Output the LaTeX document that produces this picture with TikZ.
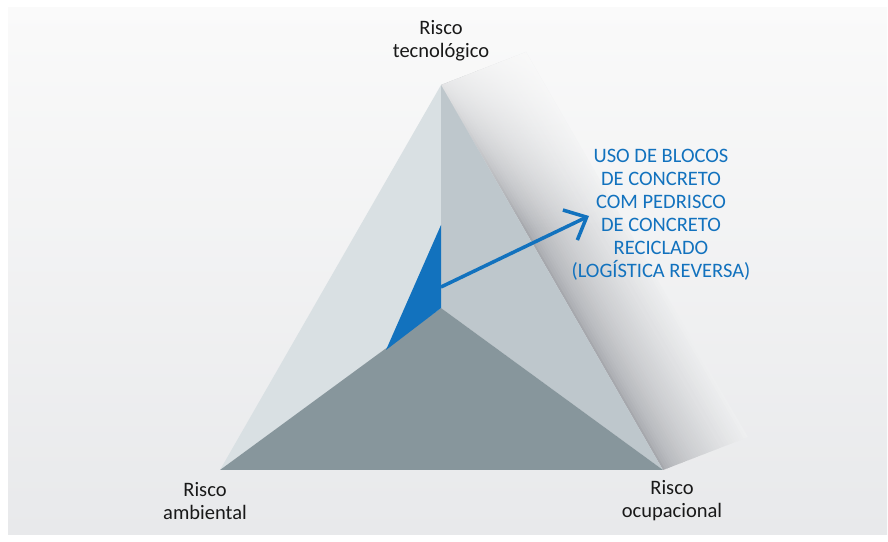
\documentclass[tikz,border=0pt]{standalone}
\usepackage{fontspec}
\setmainfont{Carlito}
\usetikzlibrary{positioning,arrows.meta,calc,fadings}
\definecolor{fundo}{HTML}{FAFAFA}
\definecolor{fundob}{HTML}{E8E9EB}
\definecolor{faceesq}{HTML}{D9E0E3}
\definecolor{facedir}{HTML}{BEC7CC}
\definecolor{base}{HTML}{87969C}
\definecolor{azul}{HTML}{1272BE}
\definecolor{sombra}{HTML}{A6A8AD}
\definecolor{sombraclara}{HTML}{EEEFF0}

\begin{document}
\begin{tikzpicture}[x=0.03cm,y=-0.03cm,
      rotulo/.style={align=center,font=\fontsize{17.5}{19.7}\selectfont,text=black!90,inner sep=0pt},
      destaque/.style={rotulo,text=azul},
      seta/.style={-{Straight Barb[length=5.5mm,width=10mm]},line width=3pt,azul}]
    \useasboundingbox (0,0) rectangle (888,542);
    \fill[white] (0,0) rectangle (888,542);
    \shade[top color=fundo,bottom color=fundob] (8,8) rectangle (887,534);
    % vertices da piramide
    \coordinate (topo) at (441,85);
    \coordinate (amb) at (220,470);
    \coordinate (ocup) at (663,470);
    \coordinate (centro) at (441,308);
    \coordinate (topoS) at (526,52);
    \coordinate (ocupS) at (748,437);
    \coordinate (azulTopo) at (441,225);
    \coordinate (azulBase) at (386,350);
    % sombra em faixas
    \foreach \i in {0,...,39}{
      \pgfmathsetmacro\ta{\i/40}
      \pgfmathsetmacro\tb{min((\i+1.3)/40,1)}
      \pgfmathtruncatemacro\pc{100*(\i/39)^0.6}
      \fill[sombraclara!\pc!sombra] ($(topo)!\ta!(topoS)$) -- ($(ocup)!\ta!(ocupS)$)
        -- ($(ocup)!\tb!(ocupS)$) -- ($(topo)!\tb!(topoS)$) -- cycle;
    }
    \begin{scope}
      \clip (topo) -- (ocup) -- (ocupS) -- (topoS) -- cycle;
      \fill[fundo,path fading=south] (420,30) rectangle (780,230);
    \end{scope}
    \fill[faceesq] (topo) -- (amb) -- (centro) -- cycle;
    \fill[facedir] (topo) -- (centro) -- (ocup) -- cycle;
    \fill[base] (amb) -- (centro) -- (ocup) -- cycle;
    \fill[azul] (azulTopo) -- (centro) -- (azulBase) -- cycle;
    \coordinate (saida) at (441,287);
    \coordinate (ponta) at (589,216);
    \draw[seta] (saida) -- (ponta);
    \node[rotulo] (tec) at (441,41) {Risco\\tecnológico};
    \node[rotulo] (ambtxt) at (205,501) {Risco\\ambiental};
    \node[rotulo] (ocutxt) at (672,501) {Risco\\ocupacional};
    \node[destaque] (uso) at (661,215) {USO DE BLOCOS\\DE CONCRETO\\COM PEDRISCO\\DE CONCRETO\\RECICLADO\\(LOGÍSTICA REVERSA)};
  \end{tikzpicture}
\end{document}
